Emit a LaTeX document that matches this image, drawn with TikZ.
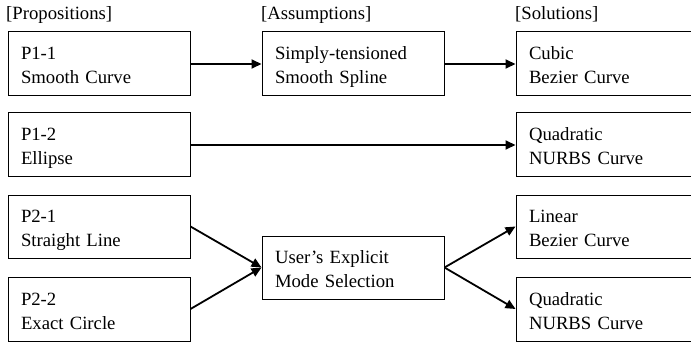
\documentclass[tikz,border=0pt]{standalone}
\usepackage{fontspec}
\setmainfont{Liberation Serif}
\usetikzlibrary{arrows.meta}
\newcommand{\tstr}{\rule{0pt}{21pt}}
\newcommand{\bstr}{\rule[-5pt]{0pt}{5pt}}
\tikzset{
  box/.style={draw, line width=1pt, minimum width=182pt, minimum height=64pt,
    text width=156pt, inner xsep=13pt, inner ysep=0pt, align=left,
    font=\fontsize{18.7}{24}\selectfont},
  hdr/.style={anchor=base west, inner sep=0pt, font=\fontsize{18.7}{24}\selectfont},
  conn/.style={line width=1.8pt, -{Triangle[length=10pt,width=9pt]}},
}
\begin{document}
\begin{tikzpicture}[x=1pt,y=-1pt]
\useasboundingbox (0,0) rectangle (691,342);
\clip (0,0) rectangle (691,342);
\node[hdr] (h1) at (6,20) {[Propositions]};
\node[hdr] (h2) at (261,20) {[Assumptions]};
\node[hdr] (h3) at (515,20) {[Solutions]};

\node[box] (p11) at (99,64) {\tstr P1-1\\Smooth Curve\bstr};
\node[box] (a1) at (353,64) {\tstr Simply-tensioned\\Smooth Spline\bstr};
\node[box] (s1) at (607,64) {\tstr Cubic\\Bezier Curve\bstr};

\node[box] (p12) at (99,145) {\tstr P1-2\\Ellipse\bstr};
\node[box] (s2) at (607,145) {\tstr Quadratic\\NURBS Curve\bstr};

\node[box, minimum height=63pt] (p21) at (99,226.5) {\tstr P2-1\\Straight Line\bstr};
\node[box] (p22) at (99,309) {\tstr P2-2\\Exact Circle\bstr};
\node[box, minimum height=63pt] (u) at (353,267.5) {\tstr User's Explicit\\Mode Selection\bstr};
\node[box, minimum height=63pt] (s3) at (607,226.5) {\tstr Linear\\Bezier Curve\bstr};
\node[box] (s4) at (607,309) {\tstr Quadratic\\NURBS Curve\bstr};

\draw[conn] (p11.east) -- (a1.west);
\draw[conn] (a1.east) -- (s1.west);
\draw[conn] (p12.east) -- (s2.west);
\draw[conn] (p21.east) -- (u.west);
\draw[conn] (p22.east) -- (u.west);
\draw[conn] (u.east) -- (s3.west);
\draw[conn] (u.east) -- (s4.west);
\end{tikzpicture}
\end{document}
